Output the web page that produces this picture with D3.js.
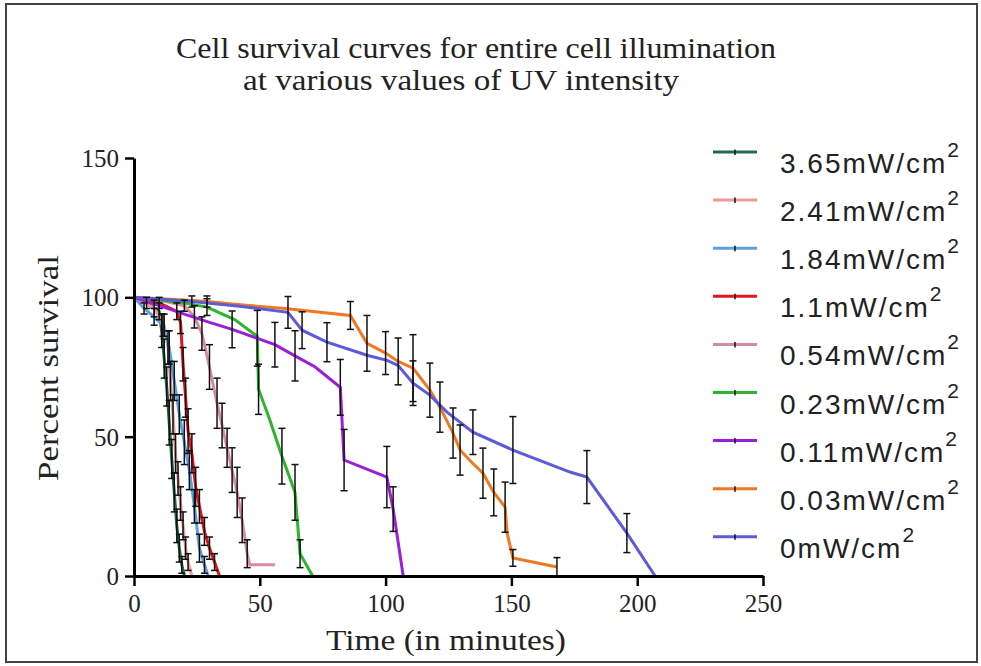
<!DOCTYPE html>
<html>
<head>
<meta charset="utf-8">
<script src="https://cdn.jsdelivr.net/npm/d3@7"></script>
<style>
  body { margin: 0; background: #fff; }
  svg text { fill: #222; }
</style>
</head>
<body>
<svg id="chart" width="981" height="666"></svg>
<script>
// survival data: time (min), percent survival, error
const labels = ["3.65", "2.41", "1.84", "1.1", "0.54", "0.23", "0.11", "0.03", "0"];
const colors = ["#226a4c", "#ec9a9a", "#5aa0e6", "#e8141c", "#d88aa0", "#2db52d", "#9b1fd6", "#f07820", "#5b5bdb"];

const t365 = [0, 5, 10, 11, 12, 13, 14, 15, 16, 17, 18, 19, 20];
const s365 = [100, 98, 95, 88, 78, 68, 55, 42, 30, 18, 10, 4, 0];
const e365 = [0, 2, 3, 6, 7, 7, 8, 7, 7, 6, 5, 3, 0];

const t241 = [0, 8, 12, 13.5, 14.5, 15.5, 16.5, 17.5, 18.5, 19.5, 20.5, 21.5, 23];
const s241 = [100, 96, 90, 82, 70, 58, 44, 35, 26, 18, 10, 5, 0];
const e241 = [0, 3, 4, 6, 7, 7, 7, 6, 6, 5, 4, 3, 0];

const t184 = [0, 4, 8, 11.5, 14, 16, 18, 20, 22, 24, 26, 28, 29.5];
const s184 = [100, 96, 93, 90, 82, 70, 58, 48, 38, 25, 10, 4, 0];
const e184 = [0, 2, 3, 4, 6, 7, 7, 8, 7, 6, 5, 3, 0];

const t110 = [0, 10, 17, 18.5, 19.5, 20.5, 21.5, 23, 24.5, 26, 28, 30, 32, 34];
const s110 = [100, 98, 95, 91, 76, 64, 52, 44, 32, 25, 16, 10, 5, 0];
const e110 = [0, 2, 3, 4, 6, 7, 8, 7, 7, 6, 5, 4, 3, 0];

const t054 = [0, 10, 20, 24, 27, 30, 33, 35, 37, 39, 41, 43, 45, 46, 56];
const s054 = [100, 99, 97, 93, 87, 75, 62, 54, 46, 38, 30, 20, 8, 4, 4];
const e054 = [0, 0, 2, 4, 6, 8, 9, 8, 7, 8, 9, 8, 5, 0, 0];

const t023 = [0, 20, 29, 40, 49, 49.5, 54, 58.8, 64, 66, 71];
const s023 = [100, 98, 96.5, 92, 86, 67, 56, 43, 30, 8, 0];
const e023 = [0, 0, 3, 0, 0, 9, 0, 10, 10, 5, 0];

const t011 = [0, 10, 20, 30, 39, 49, 56, 64, 72, 82, 83.5, 100.5, 103, 107];
const s011 = [100, 97, 94, 91, 88.5, 85.3, 83, 79, 75, 67.7, 41.6, 35.5, 24, 0];
const e011 = [0, 0, 0, 0, 6.6, 10, 8, 9, 0, 10, 11, 11, 8, 0];

const t003 = [0, 20, 29, 40, 60, 86, 92.6, 100, 105, 110.9, 117.6, 121.6, 126.8, 129.6, 134, 138.7, 143, 147.5, 148.3, 150.6, 168.1];
const s003 = [100, 99, 98.5, 97.5, 96, 93.5, 83.5, 80, 77, 74.6, 66.7, 60.6, 51.3, 45.2, 41, 36.9, 30, 24.7, 15.4, 6.5, 3.2];
const e003 = [0, 0, 2, 0, 0, 5, 10, 7.7, 8.4, 12, 9.7, 9, 9, 9, 0, 9, 8.4, 9, 0, 3, 3.4];

const t000 = [0, 23, 42, 61.2, 66.8, 76.7, 92.6, 100.6, 104.9, 110.9, 117.6, 124.4, 134.7, 150.6, 173.3, 180, 195.9, 207.1];
const s000 = [100, 98.5, 96.8, 94.6, 88.2, 83.9, 79.2, 77.4, 75.6, 69.2, 64.9, 58.8, 51.6, 45.2, 37.3, 35.5, 15.4, 0];
const e000 = [0, 2, 0, 5.7, 6.6, 7, 0, 0, 0, 8, 0, 0, 8, 12, 0, 9.5, 7, 0];

const xTicks = [0, 50, 100, 150, 200, 250];
const yTicks = [0, 50, 100, 150];

const times = [t365, t241, t184, t110, t054, t023, t011, t003, t000];
const survs = [s365, s241, s184, s110, s054, s023, s011, s003, s000];
const errs = [e365, e241, e184, e110, e054, e023, e011, e003, e000];

const series = labels.map(function (lab, i) {
    return {
        label: lab,
        color: colors[i],
        points: times[i].map(function (t, j) {
            return { t: t, s: survs[i][j], e: errs[i][j] };
        })
    };
});

const svg = d3.select("#chart");
const serif = "'Liberation Serif', 'Times New Roman', serif";

// outer frame
svg.append("rect")
    .attr("x", 6).attr("y", 4)
    .attr("width", 971).attr("height", 658)
    .attr("fill", "none")
    .attr("stroke", "#444")
    .attr("stroke-width", 2);

const x = d3.scaleLinear().domain([0, 250]).range([134, 763]);
const y = d3.scaleLinear().domain([0, 150]).range([576, 158]);

const line = d3.line()
    .x(function (d) { return x(d.t); })
    .y(function (d) { return y(d.s); });

const plot = svg.append("g");

series.forEach(function (sr) {
    plot.append("path")
        .datum(sr.points)
        .attr("fill", "none")
        .attr("stroke", sr.color)
        .attr("stroke-width", 3)
        .attr("d", line);
});

// error bars
series.forEach(function (sr) {
    const eb = plot.append("g")
        .attr("stroke", "#111")
        .attr("stroke-width", 1.5);
    sr.points.filter(function (d) { return d.e > 0; }).forEach(function (d) {
        const cx = x(d.t), y1 = y(Math.max(0, d.s - d.e)), y2 = y(d.s + d.e);
        eb.append("line").attr("x1", cx).attr("x2", cx).attr("y1", y1).attr("y2", y2);
        eb.append("line").attr("x1", cx - 3.5).attr("x2", cx + 3.5).attr("y1", y1).attr("y2", y1);
        eb.append("line").attr("x1", cx - 3.5).attr("x2", cx + 3.5).attr("y1", y2).attr("y2", y2);
    });
});

// axes
const xAxis = svg.append("g")
    .attr("transform", "translate(0," + y(0) + ")")
    .call(d3.axisBottom(x).tickValues(xTicks).tickSizeInner(10).tickSizeOuter(0).tickPadding(8));
const yAxis = svg.append("g")
    .attr("transform", "translate(" + x(0) + ",0)")
    .call(d3.axisLeft(y).tickValues(yTicks).tickSizeInner(9).tickSizeOuter(0).tickPadding(6));

[xAxis, yAxis].forEach(function (ax) {
    ax.select(".domain").attr("stroke", "#000").attr("stroke-width", 3);
    ax.selectAll(".tick line").attr("stroke", "#000").attr("stroke-width", 2.5);
    ax.selectAll(".tick text")
        .attr("fill", "#222")
        .style("font-family", serif)
        .style("font-size", "25px");
});
yAxis.selectAll(".tick text").attr("dy", "0.34em");

// titles
svg.append("text")
    .attr("x", 476).attr("y", 58)
    .attr("text-anchor", "middle")
    .attr("textLength", 600).attr("lengthAdjust", "spacingAndGlyphs")
    .style("font-family", serif).style("font-size", "29px")
    .text("Cell survival curves for entire cell illumination");
svg.append("text")
    .attr("x", 461).attr("y", 90)
    .attr("text-anchor", "middle")
    .attr("textLength", 436).attr("lengthAdjust", "spacingAndGlyphs")
    .style("font-family", serif).style("font-size", "29px")
    .text("at various values of UV intensity");

svg.append("text")
    .attr("x", 446).attr("y", 650)
    .attr("text-anchor", "middle")
    .attr("textLength", 240).attr("lengthAdjust", "spacingAndGlyphs")
    .style("font-family", serif).style("font-size", "29px")
    .text("Time (in minutes)");

svg.append("text")
    .attr("transform", "translate(58,368) rotate(-90)")
    .attr("text-anchor", "middle")
    .attr("textLength", 226).attr("lengthAdjust", "spacingAndGlyphs")
    .style("font-family", serif).style("font-size", "29px")
    .text("Percent survival");

// legend
const legend = svg.append("g");
series.forEach(function (sr, i) {
    const ly = 152 + i * 48.1;
    legend.append("line")
        .attr("x1", 713).attr("x2", 757).attr("y1", ly).attr("y2", ly)
        .attr("stroke", sr.color).attr("stroke-width", 3);
    legend.append("line")
        .attr("x1", 735).attr("x2", 735).attr("y1", ly - 2.5).attr("y2", ly + 3)
        .attr("stroke", "#111").attr("stroke-width", 1.5);
    const tx = legend.append("text")
        .attr("x", 780).attr("y", ly + 21)
        .style("font-family", "'Liberation Sans', Arial, sans-serif")
        .style("font-size", "28px")
        .style("letter-spacing", "2px");
    tx.append("tspan").text(sr.label + "mW/cm");
    tx.append("tspan")
        .attr("dy", -16)
        .style("font-size", "21px")
        .style("letter-spacing", "0px")
        .text("2");
});
</script>
</body>
</html>
